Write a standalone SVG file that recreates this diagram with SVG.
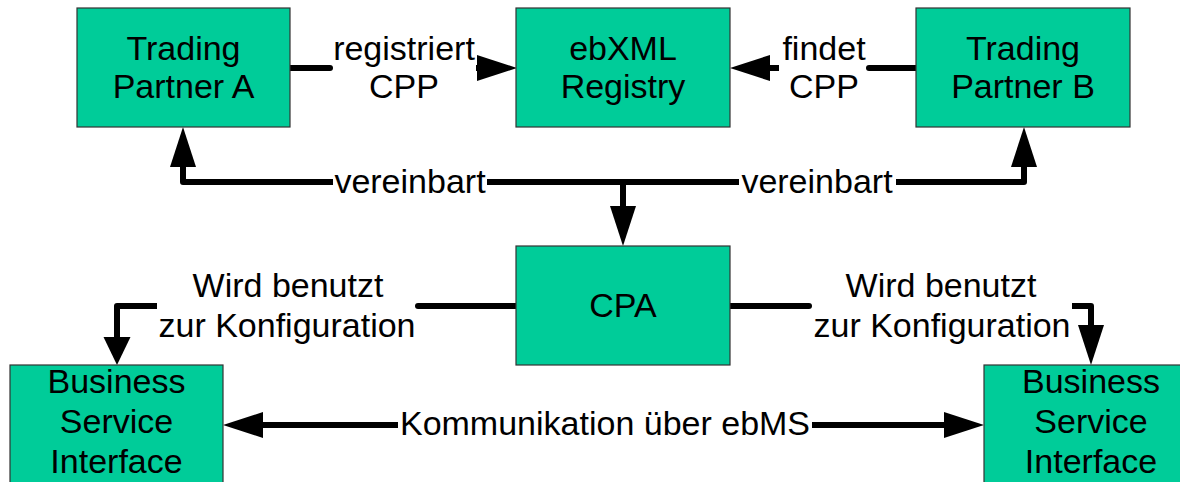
<svg xmlns="http://www.w3.org/2000/svg" width="1180" height="482" viewBox="0 0 1180 482">
<style>
.box{fill:#00CC99;stroke:#333333;stroke-width:1.2}
text{font-family:"Liberation Sans",Arial,Helvetica,sans-serif;font-size:34px;fill:#000;text-anchor:middle}
.ln{fill:none;stroke:#000;stroke-width:6;stroke-linejoin:round}
.rc{stroke-linecap:round}
</style>
<defs>
<marker id="ah" markerUnits="userSpaceOnUse" markerWidth="40" markerHeight="26" refX="0" refY="13" orient="auto" overflow="visible">
<path d="M0,0 L40,13 L0,26 z" fill="#000"/>
</marker>
<marker id="ahs" markerUnits="userSpaceOnUse" markerWidth="28" markerHeight="27" refX="0" refY="13.5" orient="auto" overflow="visible">
<path d="M0,0 L28,13.5 L0,27 z" fill="#000"/>
</marker>
</defs>
<rect width="1180" height="482" fill="#fff"/>
<g id="connectors">
<path class="ln rc" d="M290,68 H330"/>
<path class="ln" d="M476,68 H477" marker-end="url(#ah)"/>
<text x="404" y="60">registriert</text>
<text x="404" y="98">CPP</text>
<path class="ln rc" d="M916,68 H869"/>
<path class="ln" d="M779,68 H770" marker-end="url(#ah)"/>
<text x="824" y="60">findet</text>
<text x="824" y="98">CPP</text>
<path class="ln" d="M333,182 H183 V167" marker-end="url(#ah)"/>
<path class="ln" d="M487,182 H739"/>
<path class="ln" d="M623,182 V206" marker-end="url(#ah)"/>
<path class="ln" d="M896,182 H1024 V167" marker-end="url(#ah)"/>
<text x="410" y="193">vereinbart</text>
<text x="817" y="193">vereinbart</text>
<path class="ln rc" d="M517,306 H418"/>
<path class="ln" d="M157,306 H117 V337" marker-end="url(#ahs)"/>
<text x="288" y="297">Wird benutzt</text>
<text x="287" y="337">zur Konfiguration</text>
<path class="ln rc" d="M730,306 H809"/>
<path class="ln" d="M1072,306 H1091 V325" marker-end="url(#ah)"/>
<text x="941" y="297">Wird benutzt</text>
<text x="942" y="337">zur Konfiguration</text>
<path class="ln" d="M398,425 H263" marker-end="url(#ah)"/>
<path class="ln" d="M812,425 H944" marker-end="url(#ah)"/>
<text x="605" y="435">Kommunikation über ebMS</text>
</g>
<g id="tpa">
<rect class="box" x="77" y="8" width="213" height="119"/>
<text x="183.5" y="60">Trading</text>
<text x="183.5" y="98">Partner A</text>
</g>
<g id="registry">
<rect class="box" x="516" y="8" width="214" height="119"/>
<text x="623" y="60">ebXML</text>
<text x="623" y="98">Registry</text>
</g>
<g id="tpb">
<rect class="box" x="916" y="8" width="214" height="119"/>
<text x="1023" y="60">Trading</text>
<text x="1023" y="98">Partner B</text>
</g>
<g id="cpa">
<rect class="box" x="516" y="246" width="214" height="119"/>
<text x="623" y="317">CPA</text>
</g>
<g id="bsi-left">
<rect class="box" x="10" y="365" width="213" height="125"/>
<text x="116.5" y="393">Business</text>
<text x="116.5" y="433">Service</text>
<text x="116.5" y="473">Interface</text>
</g>
<g id="bsi-right">
<rect class="box" x="984" y="365" width="214" height="125"/>
<text x="1091" y="393">Business</text>
<text x="1091" y="433">Service</text>
<text x="1091" y="473">Interface</text>
</g>
</svg>
